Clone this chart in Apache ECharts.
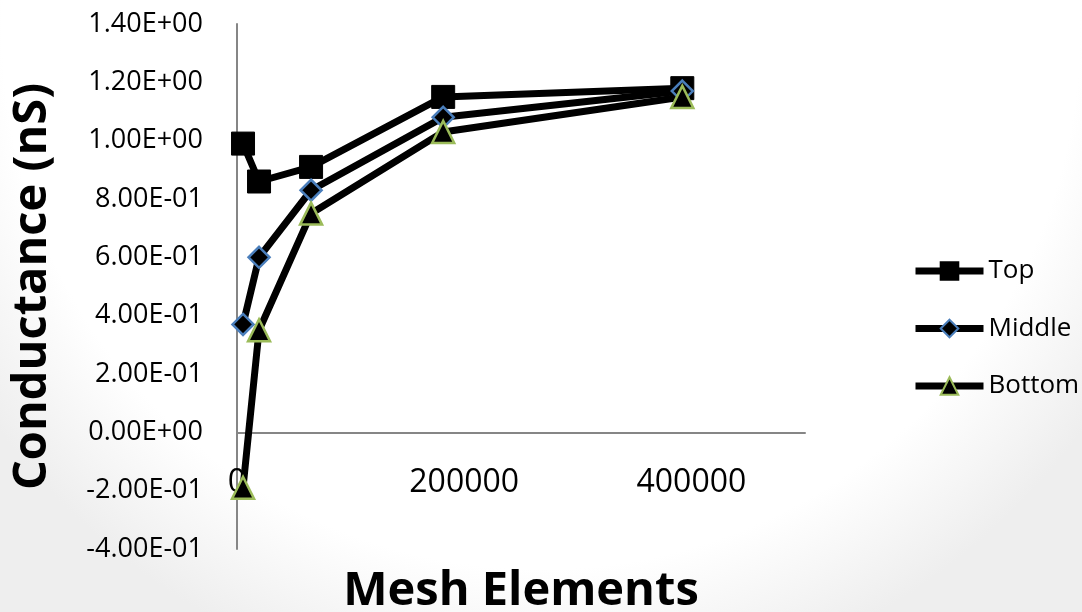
<!DOCTYPE html>
<html>
<head>
<meta charset="utf-8">
<script src="https://cdn.jsdelivr.net/npm/echarts@6/dist/echarts.min.js"></script>
<style>
  html, body { margin: 0; padding: 0; background: #fff; }
  #chart { width: 1082px; height: 612px; }
</style>
</head>
<body>
<div id="chart"></div>
<script>
// Mesh element counts (x) and conductance in nS (y) for the three probes
const meshElements = [5300, 19400, 65200, 181500, 392000];
const topValues    = [0.99, 0.86, 0.91, 1.15, 1.18];
const middleValues = [0.37, 0.60, 0.83, 1.08, 1.17];
const bottomValues = [-0.19, 0.35, 0.75, 1.03, 1.15];
const seriesNames  = ['Top', 'Middle', 'Bottom'];

const FONT = '"Open Sans", "Noto Sans", sans-serif';

function pairs(ys) {
  return meshElements.map((x, i) => [x, ys[i]]);
}

// Excel-style scientific label, e.g. 1.40E+00, -2.00E-01
function sci(v) {
  v = Math.round(v * 1e6) / 1e6;
  const s = v.toExponential(2).toUpperCase();
  const m = s.match(/^(-?[\d.]+)E([+-])(\d+)$/);
  if (!m) return s;
  return m[1] + 'E' + m[2] + (m[3].length < 2 ? '0' + m[3] : m[3]);
}

const axisLineStyle = { color: '#868686', width: 2 };

const chart = echarts.init(document.getElementById('chart'), null, { renderer: 'canvas' });
chart.setOption({
  animation: false,
  backgroundColor: {
    type: 'radial', x: 0.5, y: 0.05, r: 1.1,
    colorStops: [
      { offset: 0, color: '#ffffff' },
      { offset: 0.8, color: '#ffffff' },
      { offset: 1, color: '#eeeeee' }
    ]
  },
  grid: { left: 237, right: 277, top: 24, bottom: 63, containLabel: false, outerBoundsMode: 'none' },
  xAxis: {
    type: 'value',
    min: 0, max: 500000, interval: 200000,
    axisLine: { show: true, onZero: true, lineStyle: axisLineStyle },
    axisTick: { show: false },
    splitLine: { show: false },
    axisLabel: {
      showMaxLabel: false,
      margin: -82,
      formatter: v => String(v),
      fontFamily: FONT, fontSize: 32, color: '#000'
    },
    name: 'Mesh Elements',
    nameLocation: 'middle',
    nameGap: 19,
    nameTextStyle: {
      fontFamily: FONT, fontSize: 47, fontWeight: 'bold', color: '#000'
    }
  },
  yAxis: {
    type: 'value',
    min: -0.4, max: 1.4, interval: 0.2,
    axisLine: { show: true, lineStyle: axisLineStyle },
    axisTick: { show: false },
    splitLine: { show: false },
    axisLabel: {
      margin: 34,
      formatter: sci,
      fontFamily: FONT, fontSize: 27, color: '#000'
    },
    name: 'Conductance (nS)',
    nameLocation: 'middle',
    nameGap: 181,
    nameTextStyle: {
      fontFamily: FONT, fontSize: 47, fontWeight: 'bold', color: '#000'
    }
  },
  legend: {
    orient: 'vertical',
    left: 912, top: 258,
    padding: 0,
    itemWidth: 68, itemHeight: 22,
    itemGap: 31.5,
    lineStyle: { width: 7, color: '#000' },
    textStyle: { fontFamily: FONT, fontSize: 26, color: '#000' },
    data: seriesNames
  },
  series: [
    {
      name: seriesNames[0], type: 'line', data: pairs(topValues),
      symbol: 'rect', symbolSize: 23,
      lineStyle: { color: '#000', width: 7 },
      itemStyle: { color: '#000', borderColor: '#000', borderWidth: 1 }
    },
    {
      name: seriesNames[1], type: 'line', data: pairs(middleValues),
      symbol: 'diamond', symbolSize: 21,
      lineStyle: { color: '#000', width: 7 },
      itemStyle: { color: '#000', borderColor: '#4a7ebb', borderWidth: 2.5 }
    },
    {
      name: seriesNames[2], type: 'line', data: pairs(bottomValues),
      symbol: 'triangle', symbolSize: 22,
      lineStyle: { color: '#000', width: 7 },
      itemStyle: { color: '#000', borderColor: '#9bbb59', borderWidth: 2.5 }
    }
  ]
});
</script>
</body>
</html>
